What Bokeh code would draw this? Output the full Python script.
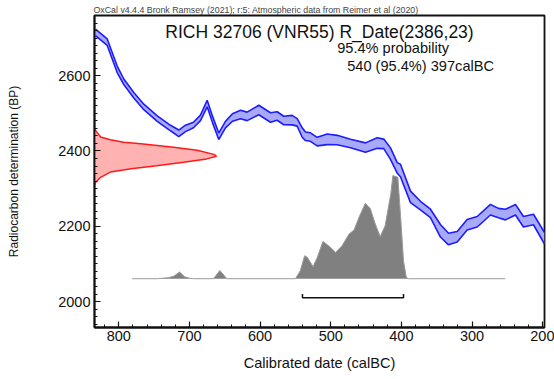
from bokeh.plotting import figure
from bokeh.models import Range1d, SingleIntervalTicker, Label
from bokeh.embed import file_html
from bokeh.resources import INLINE
import numpy as np

# ---------------- data ----------------
# calibration curve (IntCal20 band) : calendar year BC, 14C age BP, 1-sigma
curve_year = [833.0, 816.4, 802.3, 792.9, 778.8, 764.6, 745.6, 726.8, 715.1, 705.6,
              694.3, 684.4, 674.9, 667.4, 658.5, 649.0, 639.1, 627.7, 618.3, 601.8,
              585.3, 575.8, 566.5, 554.6, 547.5, 540.4, 535.7, 528.7, 519.2, 505.0,
              490.9, 472.0, 450.8, 434.3, 424.9, 415.4, 405.9, 401.3, 387.1, 373.0,
              358.8, 344.7, 333.3, 321.0, 306.9, 292.7, 273.9, 262.6, 252.7, 238.5,
              227.2, 213.0, 197.4]
curve_bp = [2715, 2689, 2617, 2584, 2548, 2517, 2486, 2461, 2447, 2460,
            2469, 2488, 2526, 2484, 2439, 2470, 2489, 2497, 2492, 2509,
            2489, 2493, 2481, 2482, 2476, 2449, 2439, 2437, 2425, 2431,
            2429, 2420, 2409, 2421, 2419, 2393, 2355, 2348, 2278, 2255,
            2234, 2188, 2166, 2172, 2204, 2212, 2244, 2235, 2231, 2244,
            2212, 2218, 2168]
curve_sigma = [8.6, 8.6, 8.6, 7.3, 7.3, 7.3, 7.3, 7.3, 8.6, 8.6,
               7.3, 7.3, 8.6, 8.6, 8.6, 8.6, 10, 11.3, 11.3, 12.6,
               12.6, 11.3, 11.3, 12.6, 10, 12.6, 11.3, 11.3, 11.3, 14,
               12.6, 11.3, 12.6, 14, 12.6, 15.3, 14, 16.6, 15.3, 11.3,
               11.3, 16.6, 15.3, 14, 14, 14, 14, 12.6, 14, 14,
               14, 14, 15.3]

# radiocarbon measurement R_Date(2386,23): relative likelihood vs BP
rdate_bp = [2460, 2454, 2437, 2430, 2423, 2419, 2410, 2402, 2391, 2386,
            2379, 2370, 2361, 2353, 2344, 2330, 2317, 2310]
rdate_rel = [0, 0.01, 0.05, 0.13, 0.24, 0.38, 0.65, 0.84, 0.98, 1.0,
             0.92, 0.73, 0.51, 0.30, 0.13, 0.05, 0.01, 0]

# calibrated probability distribution: calendar year BC, relative probability
cal_year = [781, 745, 730, 722, 714, 707, 700, 694, 666, 657, 647, 550, 543,
            537, 533, 525, 519, 511, 503, 493, 484, 474, 467, 460, 451, 444,
            437, 430, 423, 415, 412, 405, 401, 397, 393, 390, 253]
cal_prob = [0, 0, 0.01, 0.025, 0.065, 0.02, 0.005, 0, 0, 0.08, 0, 0, 0.078,
            0.223, 0.207, 0.117, 0.207, 0.362, 0.32, 0.255, 0.32, 0.434, 0.472,
            0.595, 0.731, 0.68, 0.531, 0.408, 0.514, 0.822, 1.0, 0.983, 0.595,
            0.175, 0.013, 0, 0]

# 95.4% range
range_from = 540
range_to = 397

title_text = "RICH 32706 (VNR55) R_Date(2386,23)"
prob_text = "95.4% probability"
range_text = "540 (95.4%) 397calBC"
header_text = "OxCal v4.4.4 Bronk Ramsey (2021); r:5: Atmospheric data from Reimer et al (2020)"
x_label = "Calibrated date (calBC)"
y_label = "Radiocarbon determination (BP)"

# ---------------- figure ----------------
X0, X1 = 834.4, 197.4
Y0, Y1 = 1931, 2760
FONT = "Liberation Sans"
INK = "#111111"

p = figure(width=554, height=379, x_range=Range1d(X0, X1), y_range=Range1d(Y0, Y1),
           output_backend="svg", toolbar_location=None,
           min_border_left=94, min_border_right=10, min_border_top=15, min_border_bottom=52)
p.grid.visible = False
p.background_fill_color = "white"
p.border_fill_color = "white"
p.outline_line_color = INK
p.outline_line_width = 1.8

for ax in (p.xaxis[0], p.yaxis[0]):
    ax.axis_line_color = INK
    ax.axis_line_width = 1.8
    ax.major_tick_in = 6
    ax.major_tick_out = 0
    ax.minor_tick_in = 3
    ax.minor_tick_out = 0
    ax.major_tick_line_color = INK
    ax.minor_tick_line_color = INK
    ax.major_tick_line_width = 1.2
    ax.minor_tick_line_width = 1
    ax.major_label_text_font = FONT
    ax.major_label_text_font_size = "14.5px"
    ax.major_label_text_color = INK
    ax.axis_label_text_font = FONT
    ax.axis_label_text_font_style = "normal"
    ax.axis_label_text_color = INK

p.xaxis.ticker = SingleIntervalTicker(interval=100, num_minor_ticks=5)
p.yaxis.ticker = SingleIntervalTicker(interval=200, num_minor_ticks=10)
p.xaxis.major_label_standoff = 3
p.yaxis.major_label_standoff = 4

p.xaxis.axis_label = x_label
p.xaxis.axis_label_text_font_size = "14.6px"
p.xaxis.axis_label_standoff = 11

p.yaxis.axis_label = y_label
p.yaxis.axis_label_text_font_size = "12px"
p.yaxis.axis_label_standoff = 34

# header (above frame)
p.title.text = header_text
p.title.text_font = FONT
p.title.text_font_size = "8.8px"
p.title.text_font_style = "normal"
p.title.text_color = "#444444"
p.title.align = "left"
p.title.standoff = 2
p.title.offset = -1

# calibration curve band
cy = np.array(curve_year)
cb = np.array(curve_bp, dtype=float)
cs = np.array(curve_sigma)
p.varea(x=cy, y1=cb - cs, y2=cb + cs, fill_color="#a9a9fa")
p.line(cy, cb + cs, line_color="#1c1cff", line_width=1.6)
p.line(cy, cb - cs, line_color="#1c1cff", line_width=1.6)

# measurement distribution (red, on the BP axis)
red_scale = 172.7
rb = np.array(rdate_bp, dtype=float)
rx = X0 - np.array(rdate_rel) * red_scale
p.harea(y=rb, x1=np.full(len(rb), X0), x2=rx, fill_color="#ffb2b2")
p.line(rx, rb, line_color="#ff1a1a", line_width=1.5)

# calibrated distribution (grey)
base = 2060.6
gscale = 274
gy = base + np.array(cal_prob) * gscale
p.varea(x=cal_year, y1=np.full(len(cal_year), base), y2=gy, fill_color="#808080")
p.line(cal_year, gy, line_color="#9a9a9a", line_width=1)

# 95.4% range bracket
bl = 2010
p.multi_line(xs=[[range_from, range_from, range_to, range_to]],
             ys=[[bl + 10, bl, bl, bl + 10]], line_color=INK, line_width=1.5)

# texts inside the frame
p.add_layout(Label(x=(X0 + X1) / 2, y=2716.5, text=title_text, text_font=FONT,
                   text_font_size="17.5px", text_align="center", text_baseline="middle",
                   text_color=INK))
p.add_layout(Label(x=490.9, y=2672.6, text=prob_text, text_font=FONT,
                   text_font_size="14.6px", text_align="left", text_baseline="middle",
                   text_color=INK))
p.add_layout(Label(x=476.7, y=2624.7, text=range_text, text_font=FONT,
                   text_font_size="14.6px", text_align="left", text_baseline="middle",
                   text_color=INK))

open("out.html", "w").write(file_html(p, INLINE))
